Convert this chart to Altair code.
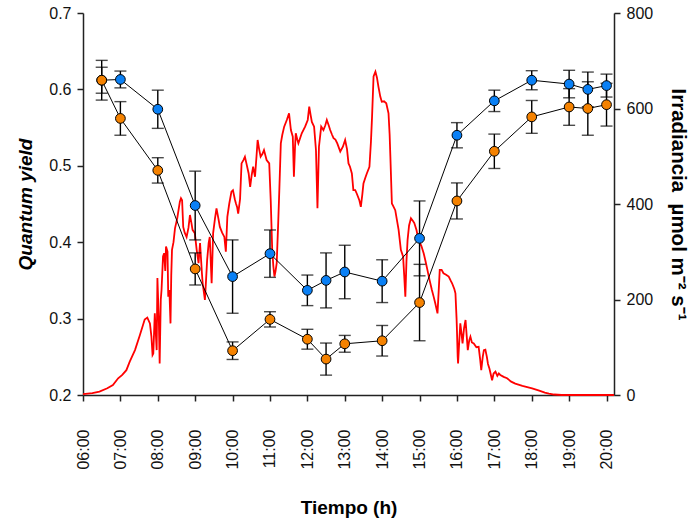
import altair as alt
import pandas as pd

# ---- Quantum yield series (hours as decimal) ----
q_hours = [6.5, 7, 8, 9, 10, 11, 12, 12.5, 13, 14, 15, 16, 17, 18, 19, 19.5, 20]
blue_vals = [0.612, 0.613, 0.574, 0.448, 0.355, 0.385, 0.337, 0.350, 0.361, 0.349,
             0.405, 0.540, 0.585, 0.612, 0.607, 0.600, 0.605]
blue_err = [0.017, 0.011, 0.025, 0.045, 0.048, 0.031, 0.020, 0.036, 0.035, 0.028,
            0.049, 0.0165, 0.014, 0.0125, 0.018, 0.0227, 0.015]
orange_vals = [0.612, 0.562, 0.494, 0.365, 0.258, 0.299, 0.273, 0.247, 0.267, 0.271,
               0.321, 0.454, 0.519, 0.564, 0.577, 0.575, 0.580]
orange_err = [0.026, 0.022, 0.0166, 0.021, 0.0115, 0.010, 0.013, 0.021, 0.011, 0.020,
              0.050, 0.0236, 0.0225, 0.0215, 0.024, 0.035, 0.028]

# ---- Irradiance trace (hour, µmol m-2 s-1) ----
irr_hours = [6.00, 6.25, 6.44, 6.65, 6.80, 6.94, 7.05, 7.16, 7.25, 7.39, 7.52, 7.65, 7.72, 7.79,
             7.83, 7.86, 7.88, 7.92, 7.97, 7.99, 8.03, 8.05, 8.08, 8.10, 8.14, 8.17, 8.20, 8.22,
             8.26, 8.28, 8.31, 8.34, 8.36, 8.38, 8.42, 8.46, 8.52, 8.59, 8.62, 8.65, 8.68, 8.72,
             8.77, 8.82, 8.86, 8.90, 8.93, 8.99, 9.04, 9.09, 9.13, 9.18, 9.20, 9.26, 9.29, 9.32,
             9.36, 9.39, 9.44, 9.48, 9.53, 9.57, 9.62, 9.66, 9.72, 9.78, 9.82, 9.86, 9.91, 9.97,
             10.01, 10.06, 10.09, 10.12, 10.15, 10.20, 10.24, 10.29, 10.33, 10.37, 10.43, 10.47,
             10.51, 10.55, 10.60, 10.64, 10.67, 10.71, 10.75, 10.80, 10.84, 10.91, 10.98, 11.02,
             11.06, 11.09, 11.12, 11.15, 11.18, 11.22, 11.25, 11.29, 11.33, 11.38, 11.45, 11.51,
             11.56, 11.61, 11.64, 11.67, 11.69, 11.73, 11.76, 11.85, 11.94, 12.01, 12.05, 12.09,
             12.12, 12.18, 12.23, 12.27, 12.31, 12.37, 12.43, 12.48, 12.52, 12.57, 12.61, 12.66,
             12.70, 12.75, 12.80, 12.88, 12.95, 13.01, 13.06, 13.10, 13.14, 13.19, 13.23, 13.28,
             13.32, 13.39, 13.43, 13.47, 13.50, 13.55, 13.59, 13.66, 13.70, 13.73, 13.77, 13.82,
             13.86, 13.90, 13.95, 13.99, 14.05, 14.11, 14.17, 14.20, 14.22, 14.26, 14.30, 14.35,
             14.44, 14.50, 14.56, 14.59, 14.62, 14.65, 14.68, 14.72, 14.77, 14.82, 14.86, 14.92,
             14.97, 15.05, 15.11, 15.16, 15.21, 15.27, 15.33, 15.38, 15.42, 15.48, 15.51, 15.54,
             15.59, 15.64, 15.71, 15.78, 15.83, 15.87, 15.93, 15.96, 15.99, 16.00, 16.02, 16.03,
             16.06, 16.09, 16.12, 16.15, 16.19, 16.23, 16.26, 16.29, 16.33, 16.36, 16.40, 16.45,
             16.52, 16.58, 16.62, 16.65, 16.69, 16.72, 16.76, 16.80, 16.83, 16.87, 16.94, 16.98,
             17.03, 17.08, 17.12, 17.16, 17.25, 17.34, 17.45, 17.56, 17.75, 18.01, 18.20, 18.35,
             18.46, 18.60, 18.80, 19.50, 20.20]
irr_vals = [2, 4, 7, 14, 21, 35, 42, 52, 70, 94, 125, 158, 162, 150,
            122, 84, 87, 171, 94, 245, 150, 66, 200, 220, 290, 297, 260, 311,
            300, 206, 220, 150, 250, 304, 320, 349, 370, 405, 412, 408, 352, 340,
            331, 350, 377, 360, 346, 339, 304, 276, 318, 255, 234, 199, 240, 283,
            318, 331, 234, 339, 370, 391, 370, 352, 340, 331, 300, 373, 400, 426,
            429, 410, 401, 394, 380, 410, 485, 492, 499, 485, 464, 436,
            460, 478, 457, 500, 534, 515, 499, 505, 513, 492, 485, 408,
            304, 270, 248, 260, 276, 360, 429, 527, 545, 562, 576, 590,
            555, 541, 457, 520, 548, 535, 527, 548, 562, 576, 604, 585,
            572, 562, 513, 391, 520, 562, 555, 565, 576, 565, 555, 545,
            538, 535, 527, 510, 520, 534, 515, 485, 478, 464, 429, 429,
            422, 408, 394, 420, 443, 455, 464, 478, 530, 583, 667, 677,
            665, 646, 625, 614, 615, 611, 590, 545, 499, 401, 395, 387,
            346, 304, 290, 250, 206, 280, 325, 355, 370, 365, 360, 345,
            325, 312, 297, 280, 262, 240, 220, 205, 192, 171, 215, 262,
            262, 255, 252, 248, 240, 234, 222, 213, 160, 136, 80, 66,
            110, 150, 130, 108, 140, 157, 125, 94, 115, 122, 110, 108,
            100, 101, 75, 52, 80, 94, 95, 80, 65, 55, 31, 45,
            49, 40, 45, 42, 38, 35, 28, 24, 19, 14, 9, 5,
            3, 1, 0, 0, 0]

x_ticks = list(range(6, 21))
left_ticks = [0.2, 0.3, 0.4, 0.5, 0.6, 0.7]
right_ticks = [0, 200, 400, 600, 800]

series_names = ["A", "B"]
series_colors = ["#0a80f5", "#f58200"]

rows = []
for name, vals, errs in [("A", blue_vals, blue_err), ("B", orange_vals, orange_err)]:
    for h, v, e in zip(q_hours, vals, errs):
        rows.append({"series": name, "hour": h, "value": v, "lo": v - e, "hi": v + e})
df_q = pd.DataFrame(rows)
df_irr = pd.DataFrame({"hour": irr_hours, "irr": irr_vals})

FONT = "Liberation Sans"
AX = "#222222"

x_scale = alt.Scale(domain=[6, 20.2], nice=False, zero=False)
x_axis = alt.Axis(values=x_ticks, labelExpr="(datum.value < 10 ? '0' : '') + datum.value + ':00'",
                  labelAngle=270, labelFontSize=16, labelPadding=28, tickSize=6,
                  title="Tiempo (h)", titleFontSize=19, titleFontWeight="bold", titlePadding=29,
                  grid=False, domainColor=AX, tickColor=AX, labelColor="#111", titleColor="#000",
                  domainWidth=1.5, tickWidth=1.5, labelFont=FONT, titleFont=FONT)
X = alt.X("hour:Q", scale=x_scale, axis=x_axis)

q_scale = alt.Scale(domain=[0.2, 0.7], nice=False, zero=False)
q_axis = alt.Axis(values=left_ticks, format=".1f", labelFontSize=16, tickSize=6, labelPadding=6,
                  title="Quantum yield", titleFontSize=19, titleFontWeight="bold",
                  titleFontStyle="italic", titlePadding=13, grid=False, domainColor=AX,
                  tickColor=AX, domainWidth=1.5, tickWidth=1.5, labelColor="#111",
                  titleColor="#000", labelFont=FONT, titleFont=FONT)

irr_axis = alt.Axis(orient="right", values=right_ticks, labelFontSize=16, tickSize=6,
                    labelPadding=6, title="Irradiancia\u00a0\u00a0µmol m⁻² s⁻¹", titleFontSize=20.5,
                    titleFontWeight="bold", titlePadding=15, grid=False, domainColor=AX,
                    tickColor=AX, domainWidth=1.5, tickWidth=1.5, labelColor="#111",
                    titleColor="#000", labelFont=FONT, titleFont=FONT)

irr = alt.Chart(df_irr).mark_line(color="#ff0000", strokeWidth=1.8).encode(
    x=X,
    y=alt.Y("irr:Q", scale=alt.Scale(domain=[0, 800], nice=False), axis=irr_axis),
    order="hour:Q",
)

base = alt.Chart(df_q)
lines = base.mark_line(color="black", strokeWidth=1).encode(
    x=X, y=alt.Y("value:Q", scale=q_scale, axis=q_axis), detail="series:N", order="hour:Q")
bars = base.mark_rule(color="black", strokeWidth=1.4).encode(
    x=X, y=alt.Y("lo:Q", scale=q_scale, axis=q_axis), y2="hi:Q")
cap_lo = base.mark_tick(color="black", orient="horizontal", size=12, thickness=1.4).encode(
    x=X, y=alt.Y("lo:Q", scale=q_scale, axis=q_axis))
cap_hi = base.mark_tick(color="black", orient="horizontal", size=12, thickness=1.4).encode(
    x=X, y=alt.Y("hi:Q", scale=q_scale, axis=q_axis))
points = base.mark_circle(size=95, opacity=1, stroke="black", strokeWidth=1).encode(
    x=X, y=alt.Y("value:Q", scale=q_scale, axis=q_axis),
    color=alt.Color("series:N", scale=alt.Scale(domain=series_names, range=series_colors),
                    legend=None))

qy = alt.layer(lines, bars, cap_lo, cap_hi, points)

chart = alt.layer(irr, qy).resolve_scale(y="independent").properties(
    width=531, height=382,
    autosize=alt.AutoSizeParams(type="none"),
    padding={"left": 83, "top": 13, "right": 80, "bottom": 128},
    background="white",
).configure_view(stroke=None)

chart.save("out.html", embed_options={"renderer": "svg", "actions": False})
